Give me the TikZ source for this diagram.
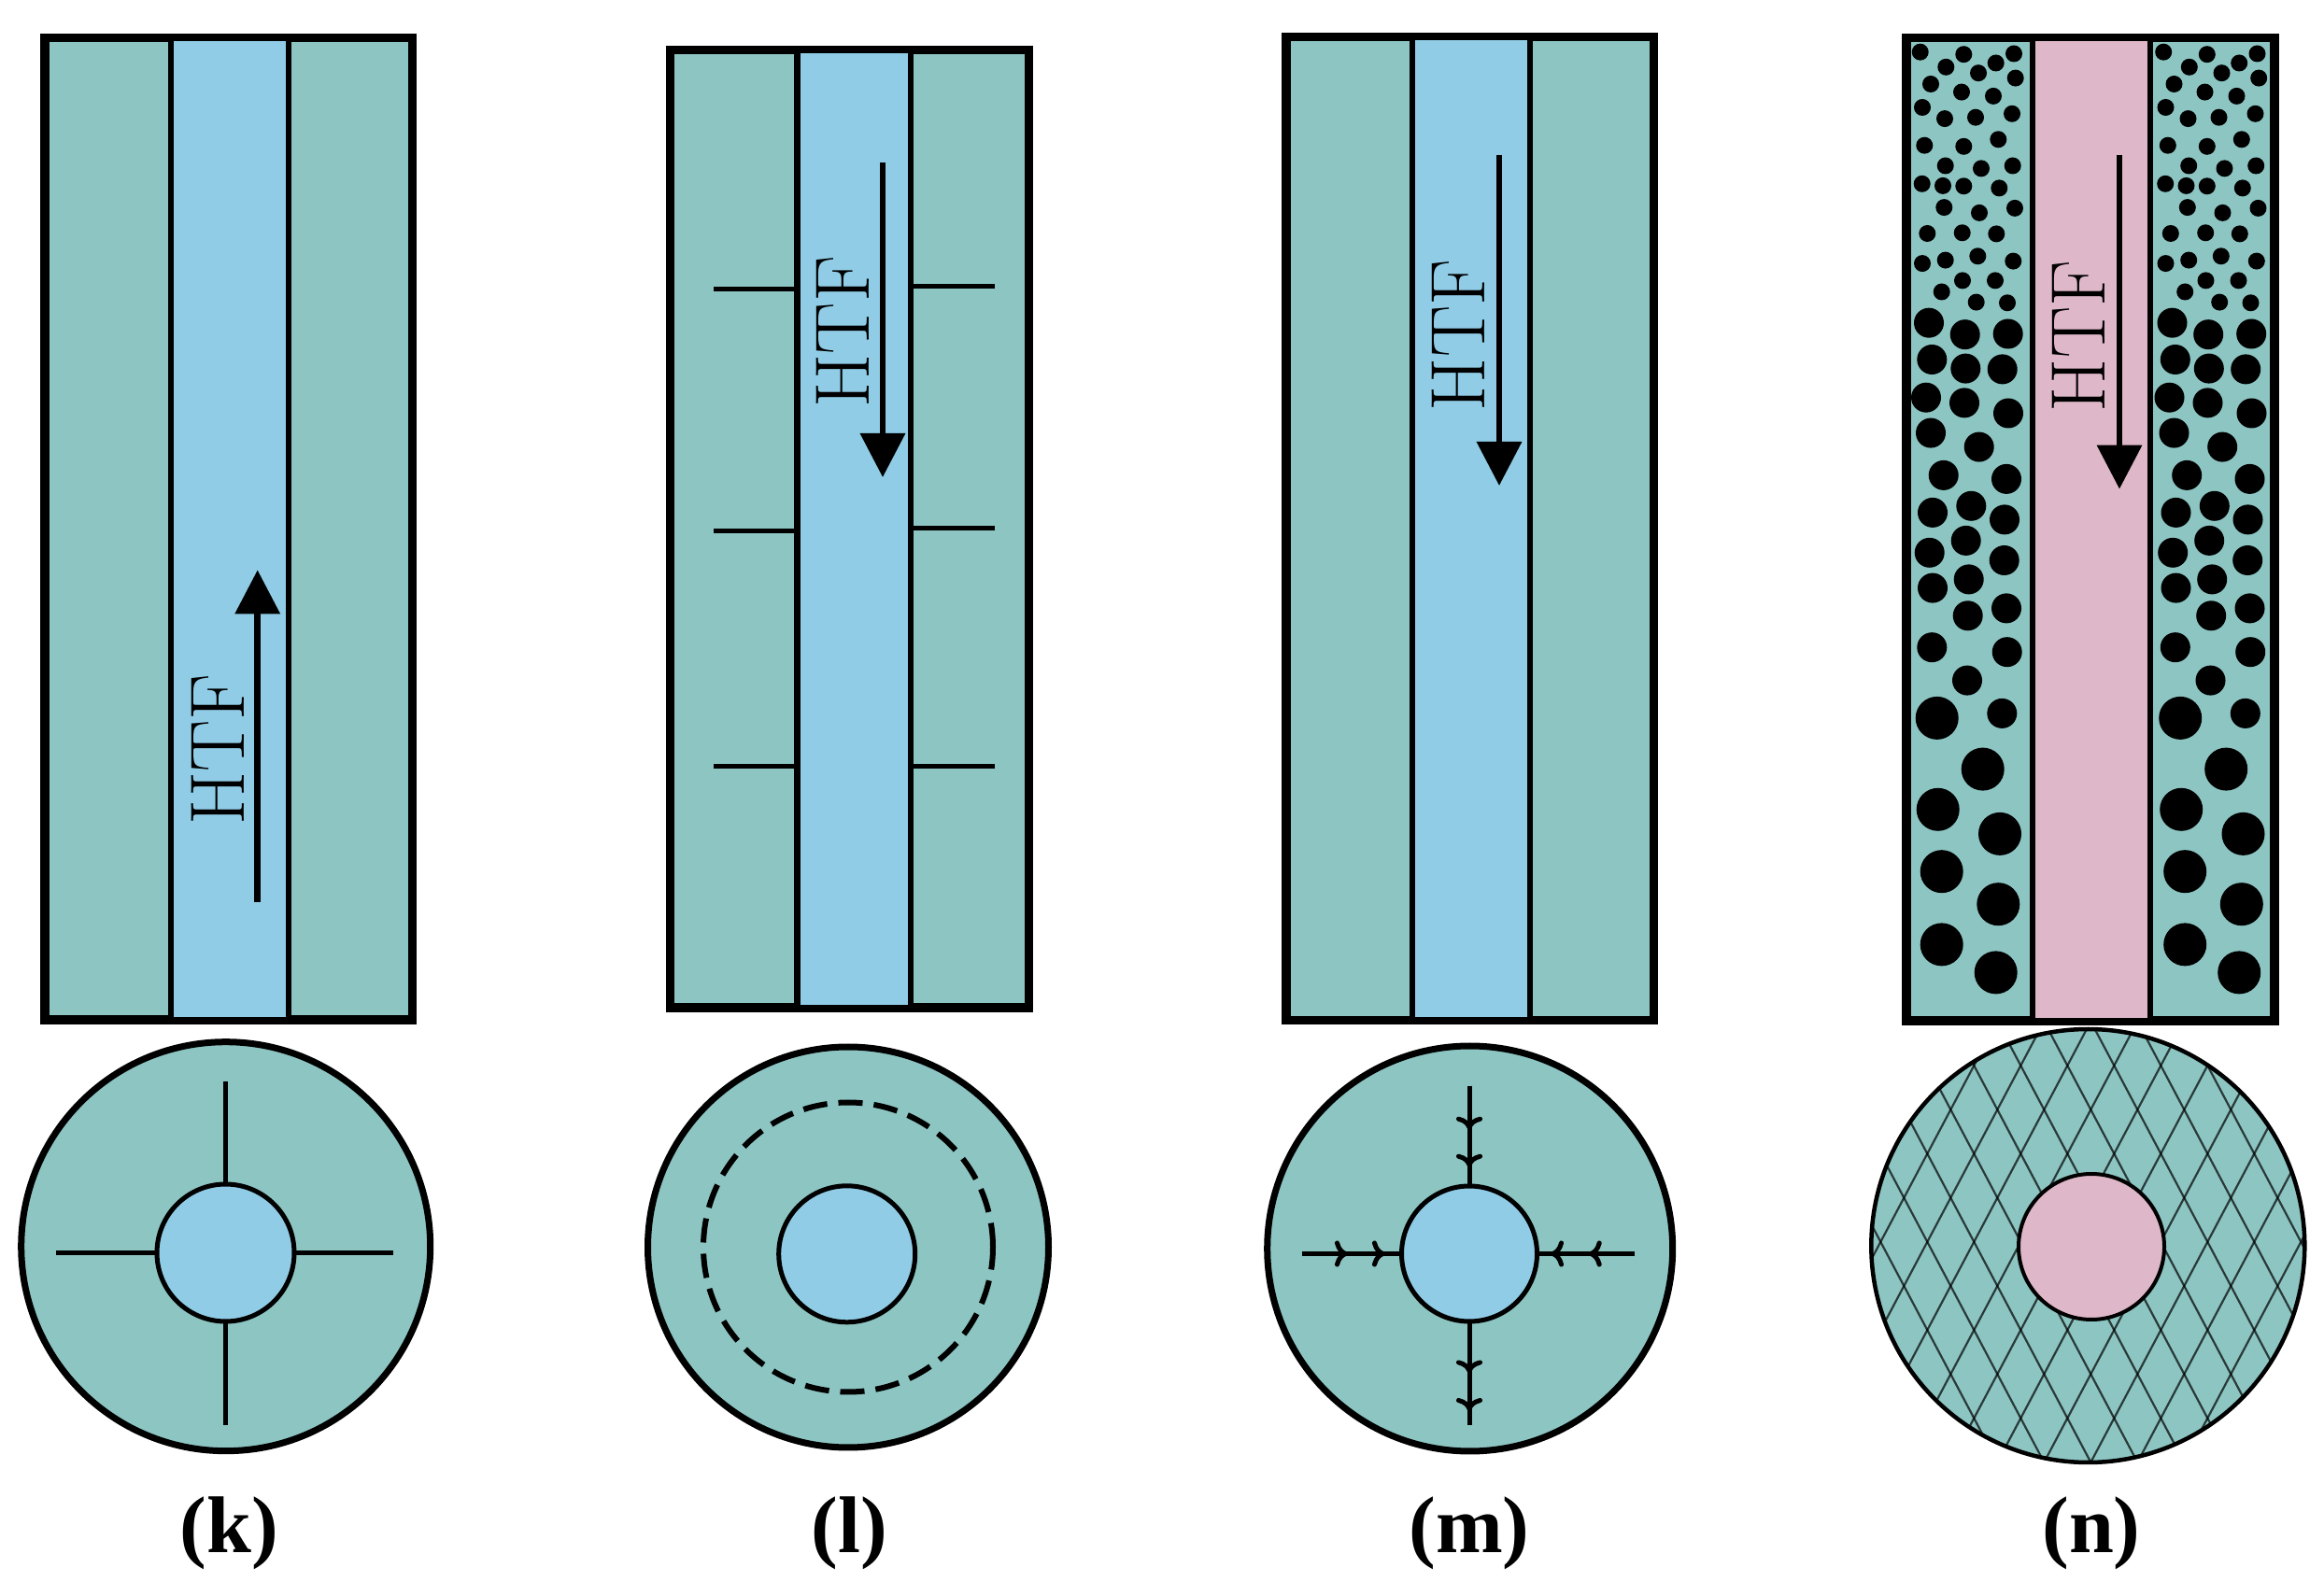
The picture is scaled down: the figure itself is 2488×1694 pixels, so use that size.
\documentclass[tikz,border=0pt]{standalone}
\usepackage{fontspec}
\usepackage{tikz}
\usetikzlibrary{positioning,arrows.meta,calc,decorations.markings}
\newfontfamily\capfont{Liberation Serif}
\definecolor{pcm}    {HTML}{8CC5C2}
\definecolor{water}  {HTML}{90CCE6}
\definecolor{salt}   {HTML}{DEB7C8}
\tikzset{
  % --- nodes
  shell/.style   = {rectangle, draw=black, fill=pcm, line width=.95mm, inner sep=0pt, outer sep=0pt},
  channel/.style = {rectangle, draw=black, line width=.65mm, inner sep=0pt, outer sep=0pt,
                    minimum width=12.6mm},
  disc/.style    = {circle, draw=black, fill=pcm, line width=.7mm, inner sep=0pt, outer sep=0pt},
  bore/.style    = {circle, draw=black, line width=.5mm, inner sep=0pt, outer sep=0pt},
  htf/.style     = {rotate=90, inner sep=0pt, font=\fontsize{23.5}{26}\selectfont},
  lbl/.style     = {anchor=base, inner sep=0pt, font=\capfont\bfseries\fontsize{24.5}{27}\selectfont},
  % --- edges
  flow/.style    = {line width=.68mm, -{Triangle[width=4.7mm,length=4.7mm]}},
  fin/.style     = {line width=.5mm},
  barbs/.style 2 args = {fin, postaction={decorate}, decoration={markings,
      mark=at position #1 with {\arrow{Computer Modern Rightarrow[width=2.8mm,length=1.4mm]}},
      mark=at position #2 with {\arrow{Computer Modern Rightarrow[width=2.8mm,length=1.4mm]}}}},
  meshline/.style= {line width=.22mm, draw=black, opacity=.7},
}
\begin{document}
\begin{tikzpicture}[x=.1mm,y=-.1mm]
  \useasboundingbox (0,0) rectangle (2488,1694);

  % k
  \node[shell, minimum width=39.35mm, minimum height=105.15mm] (shk) at (244.75,566.3) {};
  \node[channel, fill=water, minimum height=105.15mm] (chk) at (246,566.3) {};
  \coordinate (ka) at (275.7,965.7);
  \coordinate (kb) at (275.7,610.4);
  \draw[flow] (ka) -- (kb);
  \node[htf] (htfk) at (233,802.5) {HTF};
  \node[disc, minimum size=43.8mm] (dk) at (241.7,1334.7) {};
  \node[bore, fill=water, minimum size=14.7mm] (bk) at (241.5,1341.5) {};
  \coordinate (kt) at (241.5,1158.3);
  \coordinate (kl) at (60,1341.5);
  \coordinate (kr) at (420.7,1341.5);
  \coordinate (kd) at (241.5,1525.7);
  \draw[fin] (kt) -- (bk.north);
  \draw[fin] (kl) -- (bk.west);
  \draw[fin] (kr) -- (bk.east);
  \draw[fin] (kd) -- (bk.south);
  \node[lbl] (lk) at (245.4,1662) {(k)};

  % l
  \node[shell, minimum width=38.4mm, minimum height=102.55mm] (shl) at (909.7,566.25) {};
  \node[channel, fill=water, minimum width=12.13mm, minimum height=102.55mm] (chl) at (914.35,566.25) {};
  \foreach \n/\yl/\yr in {1/309.3/307,2/568.6/565.7,3/821/821} {
    \coordinate (fl\n) at (764,\yl);
    \coordinate (fr\n) at (1065,\yr);
    \draw[fin] (fl\n) -- (fl\n -| chl.west);
    \draw[fin] (fr\n) -- (fr\n -| chl.east);
  }
  \coordinate (la) at (945,174);
  \coordinate (lb) at (945,511);
  \draw[flow] (la) -- (lb);
  \node[htf] (htfl) at (902.7,355.3) {HTF};
  \node[disc, minimum size=42.9mm] (dl) at (908,1335.5) {};
  \node[circle, draw=black, line width=.6mm, dash pattern=on 2.6mm off 1.2mm,
        inner sep=0pt, minimum size=31mm] (rl) at (908,1335.5) {};
  \node[bore, fill=water, minimum size=14.6mm] (bl) at (906.7,1342.8) {};
  \node[lbl] (ll) at (909.6,1662) {(l)};

  % m
  \node[shell, minimum width=39.37mm, minimum height=105.3mm] (shm) at (1573.85,566) {};
  \node[channel, fill=water, minimum height=105.3mm] (chm) at (1574.85,566) {};
  \coordinate (ma) at (1605,166);
  \coordinate (mb) at (1605,520);
  \draw[flow] (ma) -- (mb);
  \node[htf] (htfm) at (1561,359) {HTF};
  \node[disc, minimum size=43.4mm] (dm) at (1573.7,1337) {};
  \node[bore, fill=water, minimum size=14.5mm] (bm) at (1573,1342.5) {};
  \coordinate (mt) at (1573,1162.7);
  \coordinate (ml) at (1394.3,1342.5);
  \coordinate (mr) at (1750,1342.5);
  \coordinate (md) at (1573,1525.7);
  \draw[barbs={4.7mm}{8.7mm}] (mt) -- (bm.north);
  \draw[barbs={4.87mm}{8.87mm}] (ml) -- (bm.west);
  \draw[barbs={4.93mm}{9mm}] (mr) -- (bm.east);
  \draw[barbs={5.54mm}{9.6mm}] (bm.south) -- (md);
  \node[lbl] (lm) at (1573,1662) {(m)};

  % n
  \node[shell, minimum width=39.4mm, minimum height=105.25mm] (shn) at (2238,566.75) {};
  \node[channel, fill=salt, minimum height=105.25mm] (chn) at (2239,566.75) {};
  \foreach \s in {0,260.5} {
    \foreach \x/\y in {2055.7/55.7,2083.3/71.8,2102.3/58.2,2118/78.2,2136.7/67.5,2156/57.5,2157.7/83.6,
        2067/90,2100/98.6,2134/102.9,2058/115,2082/127.1,2115/125.7,2154/121.8,2060.3/155.7,2102.3/156.8,
        2139.3/149.3,2082.7/177.5,2121/180.4,2154.7/177.5,2057.7/196.8,2080/198.9,2102.3/199.3,2140.3/201.4,
        2081.3/222.1,2119/227.9,2157/222.9,2063.3/250,2100.7/249.3,2137.3/250.4,2058/282.1,2082.7/278.6,
        2117.3/274.3,2155.3/279.6,2101/300.4,2136/300.4,2078.7/312.5,2115.7/323.6,2149/324.3}
      \fill ({\x+\s},\y) circle (.9mm);
    \foreach \x/\y in {2065/345.7,2103.7/358.2,2149.7/357.5,2068.3/385,2104.3/394.6,2143.7/395.4,2062/425.7,
        2103/431.4,2150/442.5,2067/463.6,2118.7/478.6,2080.7/508.9,2148/512.9,2069/548.9,2110.3/541.8,
        2146/556.4,2065.7/591.8,2104.7/578.9,2145.7/600,2069/629.6,2107.7/620.4,2148/651.4,2106.7/659.3,
        2068.3/693.2,2148.7/698.2,2106/728.6,2143.3/763.9}
      \fill ({\x+\s},\y) circle (1.6mm);
    \foreach \x/\y in {2073.7/768.9,2122.7/823.6,2074.7/866.8,2141/892.9,2078.7/933.2,2139.3/968.2,
        2078.7/1011.4,2136.7/1041.4}
      \fill ({\x+\s},\y) circle (2.3mm);
  }
  \coordinate (na) at (2269,166);
  \coordinate (nb) at (2269,523.6);
  \draw[flow] (na) -- (nb);
  \node[htf] (htfn) at (2225,360) {HTF};
  \node[disc, line width=.45mm, minimum size=46.4mm] (dn) at (2235.3,1334) {};
  \begin{scope}
    \clip (dn.center) circle (23.2mm);
    \foreach \k in {-14,...,14} {
      \draw[meshline] ({2238.3+50*\k-250},{1188.2-472}) -- ({2238.3+50*\k+250},{1188.2+472});
      \draw[meshline] ({2238.3+50*\k+250},{1188.2-472}) -- ({2238.3+50*\k-250},{1188.2+472});
    }
  \end{scope}
  \node[bore, fill=salt, line width=.4mm, minimum size=15.6mm] (bn) at (2239,1335) {};
  \node[lbl] (ln) at (2239,1662) {(n)};
\end{tikzpicture}
\end{document}
